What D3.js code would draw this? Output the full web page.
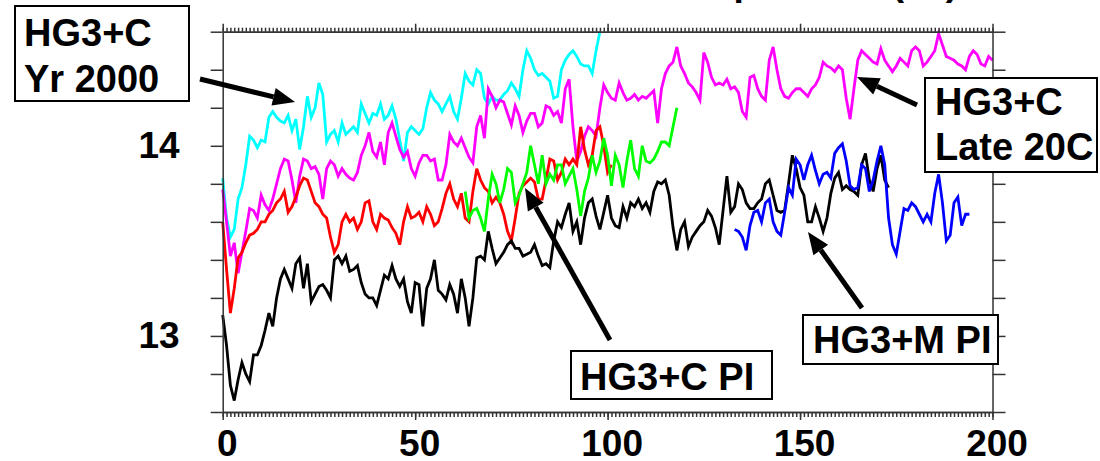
<!DOCTYPE html>
<html>
<head>
<meta charset="utf-8">
<script src="https://cdn.jsdelivr.net/npm/d3@7"></script>
<style>
  body { margin: 0; background: #fff; }
  svg { display: block; font-family: 'Liberation Sans', Arial, sans-serif; font-weight: bold; }
  .axis path, .axis line { stroke: #333; stroke-width: 1.5; }
  .axis text { font-family: 'Liberation Sans', Arial, sans-serif; font-weight: bold; font-size: 37px; fill: #000; }
</style>
</head>
<body>
<svg id="chart" width="1100" height="461"></svg>
<script>
'use strict';

// ---- data: annual global mean temperature (deg C) by model year ----
var cyanStart = 0;
var cyanVals = [
  13.83, 13.62, 13.52, 13.56, 13.72, 13.78, 13.9, 14.05, 14.03, 13.99,
  14.03, 14.02, 14.15, 14.18, 14.15, 14.13, 14.12, 14.16, 14.08, 14.14,
  13.98, 14.1, 14.26, 14.15, 14.2, 14.33, 14.27, 14.02, 14.06, 14.08,
  14.02, 14.12, 14.06, 14.08, 14.1, 14.07, 14.22, 14.17, 14.12, 14.17,
  14.16, 14.22, 14.14, 14.16, 14.21, 14.14, 14.03, 13.92, 14.07, 14.1,
  14.08, 14.06, 14.09, 14.2, 14.28, 14.24, 14.22, 14.18, 14.22, 14.26,
  14.18, 14.14, 14.25, 14.38, 14.34, 14.32, 14.4, 14.38, 14.25, 14.22,
  14.26, 14.24, 14.24, 14.27, 14.29, 14.33, 14.3, 14.26, 14.4, 14.5,
  14.46, 14.4, 14.37, 14.38, 14.36, 14.34, 14.25, 14.26, 14.4, 14.45,
  14.48, 14.5, 14.47, 14.43, 14.42, 14.42, 14.38, 14.5, 14.6
];

var magentaStart = 0;
var magentaVals = [
  13.77, 13.6, 13.42, 13.49, 13.33, 13.44, 13.55, 13.67, 13.66, 13.62,
  13.74, 13.69, 13.66, 13.72, 13.8, 13.88, 13.93, 13.92, 13.82, 13.7,
  13.84, 13.93, 13.92, 13.88, 13.89, 13.85, 13.72, 13.88, 13.92, 13.9,
  13.84, 13.88, 13.85, 13.83, 13.82, 13.86, 13.95, 14.0, 14.07, 13.97,
  13.94, 14.02, 13.9, 14.07, 14.12, 14.05, 13.98, 13.94, 13.97, 13.88,
  13.84, 13.91, 13.95, 13.95, 13.92, 13.93, 13.82, 13.82, 13.9, 14.06,
  14.02, 14.0, 14.04, 13.99, 13.94, 13.91, 14.1, 14.16, 14.04, 14.3,
  14.26, 14.2, 14.24, 14.23, 14.17, 14.11, 14.21, 14.16, 14.07, 14.13,
  14.17, 14.17, 14.1, 14.12, 14.21, 14.2, 14.16, 14.18, 14.12, 14.3,
  14.35, 14.1, 13.92, 13.97, 14.05, 14.1, 14.08, 14.05, 14.2, 14.32,
  14.28, 14.25, 14.24, 14.33, 14.28, 14.24, 14.25, 14.27, 14.24, 14.26,
  14.25, 14.27, 14.29, 14.12, 14.3, 14.38, 14.42, 14.44, 14.52, 14.42,
  14.38, 14.33, 14.31, 14.28, 14.24, 14.49, 14.44, 14.36, 14.32, 14.33,
  14.32, 14.35, 14.3, 14.31, 14.28, 14.18, 14.15, 14.36, 14.37, 14.3,
  14.26, 14.24, 14.45, 14.52, 14.4, 14.3, 14.26, 14.25, 14.28, 14.3,
  14.3, 14.28, 14.26, 14.3, 14.32, 14.36, 14.44, 14.42, 14.41, 14.39,
  14.42, 14.4, 14.25, 14.14, 14.3, 14.45, 14.5, 14.48, 14.46, 14.44,
  14.43, 14.51, 14.45, 14.42, 14.39, 14.42, 14.46, 14.44, 14.42, 14.5,
  14.52, 14.5, 14.42, 14.44, 14.47, 14.5, 14.59, 14.53, 14.47, 14.46,
  14.45, 14.43, 14.42, 14.4, 14.47, 14.5, 14.48, 14.43, 14.42, 14.47, 14.45
];

var redStart = 0;
var redVals = [
  13.6, 13.35, 13.12, 13.25, 13.41, 13.44, 13.49, 13.53, 13.54, 13.56,
  13.6, 13.6, 13.64, 13.66, 13.7, 13.72, 13.76, 13.65, 13.68, 13.73,
  13.79, 13.83, 13.82, 13.76, 13.7, 13.68, 13.64, 13.62, 13.52, 13.44,
  13.48, 13.6, 13.64, 13.6, 13.62, 13.56, 13.6, 13.7, 13.71, 13.6,
  13.56, 13.64, 13.62, 13.61, 13.57, 13.54, 13.48, 13.6, 13.68, 13.62,
  13.63, 13.65, 13.6, 13.68, 13.64, 13.58, 13.6, 13.67, 13.75, 13.8,
  13.72, 13.68, 13.75, 13.62, 13.6, 13.76, 13.88, 13.82, 13.78, 13.76,
  13.7, 13.73, 13.7, 13.64, 13.55, 13.5, 13.62, 13.75, 13.79, 13.81,
  13.83, 13.81, 13.72, 13.72, 13.82, 13.93, 13.92, 13.82, 13.86, 13.93,
  13.9, 13.93, 13.9, 14.1, 13.98, 13.9, 13.95, 14.08, 14.1, 14.0,
  13.86, 13.9
];

var greenStart = 63;
var greenVals = [
  13.76, 13.62, 13.66, 13.67, 13.62, 13.55, 13.72, 13.85, 13.8, 13.7,
  13.77, 13.88, 13.86, 13.7, 13.74, 13.8, 13.86, 14.0, 13.9, 13.8,
  13.95, 13.8, 13.85, 13.82, 13.9, 13.9, 13.8, 13.84, 13.88, 13.77,
  13.63, 13.76, 13.83, 13.95, 13.86, 13.92, 14.04, 13.95, 13.79, 13.95,
  13.9, 13.78, 13.92, 14.03, 13.88, 13.84, 14.0, 13.92, 13.91, 13.93,
  13.97, 14.02, 14.02, 14.0, 14.1, 14.2
];

var blackStart = 0;
var blackVals = [
  13.11, 12.95, 12.74, 12.66, 12.77, 12.86, 12.8, 12.76, 12.9, 12.9,
  12.95, 13.03, 13.12, 13.05, 13.2, 13.3, 13.35, 13.3, 13.25, 13.38,
  13.41, 13.25, 13.38, 13.18, 13.22, 13.26, 13.27, 13.24, 13.2, 13.4,
  13.42, 13.38, 13.42, 13.34, 13.35, 13.37, 13.28, 13.22, 13.2, 13.2,
  13.16, 13.24, 13.32, 13.3, 13.37, 13.3, 13.26, 13.3, 13.18, 13.12,
  13.28, 13.27, 13.05, 13.25, 13.3, 13.4, 13.24, 13.22, 13.19, 13.27,
  13.22, 13.12, 13.3, 13.2, 13.05, 13.2, 13.41, 13.42, 13.4, 13.55,
  13.46, 13.38, 13.41, 13.44, 13.48, 13.5, 13.46, 13.46, 13.42, 13.43,
  13.44, 13.48, 13.42, 13.37, 13.38, 13.36, 13.5, 13.6, 13.57, 13.64,
  13.7, 13.55, 13.6, 13.48, 13.62, 13.7, 13.72, 13.63, 13.56, 13.65,
  13.74, 13.62, 13.58, 13.57, 13.68, 13.62, 13.7, 13.68, 13.72, 13.67,
  13.7, 13.65, 13.76, 13.81, 13.8, 13.82, 13.74, 13.57, 13.45, 13.56,
  13.6, 13.47, 13.52, 13.55, 13.58, 13.6, 13.66, 13.63, 13.57, 13.48,
  13.66, 13.84, 13.65, 13.68, 13.8, 13.77, 13.7, 13.67, 13.67, 13.7,
  13.72, 13.8, 13.82, 13.74, 13.66, 13.65, 13.66, 13.8, 13.95, 13.88,
  13.78, 13.74, 13.6, 13.6, 13.68, 13.62, 13.55, 13.62, 13.75, 13.83,
  13.86, 13.77, 13.79, 13.77, 13.76, 13.74, 13.9, 13.96, 13.82, 13.76,
  13.88, 13.95, 13.82, 13.78
];

var blueStart = 133;
var blueVals = [
  13.56, 13.55, 13.52, 13.45, 13.58, 13.65, 13.66, 13.6, 13.7, 13.72,
  13.6, 13.55, 13.53, 13.65, 13.78, 13.74, 13.93, 13.9, 13.82, 13.9,
  13.95, 13.87, 13.8, 13.85, 13.86, 13.83, 13.96, 13.99, 14.01, 13.92,
  13.79, 13.77, 13.78, 13.9, 13.88, 13.76, 13.82, 13.92, 14.0, 13.9,
  13.62, 13.48, 13.43, 13.55, 13.67, 13.66, 13.7, 13.68, 13.64, 13.6,
  13.64, 13.6, 13.75, 13.85, 13.7, 13.5, 13.53, 13.7, 13.73, 13.58,
  13.64, 13.64
];

var xTickLabels = [0, 50, 100, 150, 200];
var yTickLabels = [13, 14];

// ---- series table built from the arrays above ----
var series = [
  {name: 'HG3+C Yr 2000', color: '#00ffff', start: cyanStart, vals: cyanVals},
  {name: 'HG3+C Late 20C', color: '#ff00ff', start: magentaStart, vals: magentaVals},
  {name: 'HG3+C PI (red)', color: '#ff0000', start: redStart, vals: redVals},
  {name: 'HG3+C PI (green)', color: '#00ff00', start: greenStart, vals: greenVals},
  {name: 'HG3+C PI (black)', color: '#000000', start: blackStart, vals: blackVals},
  {name: 'HG3+M PI', color: '#0000ff', start: blueStart, vals: blueVals}
];

var W = 1100, H = 461;
var margin = {top: 31.7, right: 107.5, bottom: 49, left: 222.7};
var plotBottom = H - margin.bottom, plotTop = margin.top;

var svg = d3.select('#chart');

var x = d3.scaleLinear()
  .domain([0, 200])
  .range([margin.left, W - margin.right]);

var y = d3.scaleLinear()
  .domain([12.6, 14.6])
  .range([plotBottom, plotTop]);

var yTicks = d3.range(0, 11).map(function(i) { return 12.6 + i * 0.2; });
var minorX = d3.range(0, 201);

// title, clipped by the top edge of the picture
svg.append('text')
  .attr('x', 958)
  .attr('y', -5)
  .attr('text-anchor', 'end')
  .style('font-size', '37px')
  .text('Global Mean Surface Air Temperature (°C)');

// ---- series ----
var line = d3.line()
  .x(function(d) { return x(d.year); })
  .y(function(d) { return y(d.t); });

svg.append('g')
  .selectAll('path')
  .data(series)
  .enter().append('path')
  .attr('fill', 'none')
  .attr('stroke', function(d) { return d.color; })
  .attr('stroke-width', 2.8)
  .attr('d', function(s) {
    return line(s.vals.map(function(v, i) { return {year: s.start + i, t: v}; }));
  });

// ---- axes ----
svg.append('g')
  .attr('class', 'axis')
  .attr('transform', 'translate(0,' + plotBottom + ')')
  .call(d3.axisBottom(x).tickValues(minorX).tickSize(5).tickSizeOuter(0).tickFormat(''));

svg.append('g')
  .attr('class', 'axis')
  .attr('transform', 'translate(0,' + plotBottom + ')')
  .call(d3.axisBottom(x).tickValues(xTickLabels).tickSize(8).tickSizeOuter(0).tickPadding(10))
  .selectAll('text')
    .attr('dx', '4');

svg.append('g')
  .attr('class', 'axis')
  .attr('transform', 'translate(0,' + plotTop + ')')
  .call(d3.axisTop(x).tickValues(minorX).tickSize(4).tickSizeOuter(0).tickFormat(''));

svg.append('g')
  .attr('class', 'axis')
  .attr('transform', 'translate(0,' + plotTop + ')')
  .call(d3.axisTop(x).tickValues(xTickLabels).tickSize(8).tickSizeOuter(0).tickFormat(''));

svg.append('g')
  .attr('class', 'axis')
  .attr('transform', 'translate(' + margin.left + ',0)')
  .call(d3.axisLeft(y).tickValues(yTicks).tickSize(12).tickSizeOuter(0).tickPadding(31)
    .tickFormat(function(d) {
      var r = Math.round(d);
      return (Math.abs(d - r) < 1e-6 && yTickLabels.indexOf(r) >= 0) ? r : '';
    }));

svg.append('g')
  .attr('class', 'axis')
  .attr('transform', 'translate(' + (W - margin.right) + ',0)')
  .call(d3.axisRight(y).tickValues(yTicks).tickSize(13).tickSizeOuter(0).tickFormat(''));

// ---- annotations ----
var notes = [
  {lines: ['HG3+C', 'Yr 2000'], box: [15, 6, 174, 95], tx: 24, base: [46, 92], arrow: [200, 79, 295, 102]},
  {lines: ['HG3+C', 'Late 20C'], box: [925, 78, 172, 94], tx: 935, base: [115, 160], arrow: [917, 105, 857, 77]},
  {lines: ['HG3+C PI'], box: [571, 351, 201, 48], tx: 580, base: [390], arrow: [610, 340, 525, 188]},
  {lines: ['HG3+M PI'], box: [803, 315, 195, 49], tx: 813, base: [353], arrow: [862, 308, 808, 232]}
];

var ann = svg.append('g');
notes.forEach(function(n) {
  var a = n.arrow;
  var ang = Math.atan2(a[3] - a[1], a[2] - a[0]);
  var hl = 22, hw = 9;
  var bx = a[2] - hl * Math.cos(ang), by = a[3] - hl * Math.sin(ang);
  ann.append('line')
    .attr('x1', a[0]).attr('y1', a[1])
    .attr('x2', bx).attr('y2', by)
    .attr('stroke', '#000')
    .attr('stroke-width', 5);
  ann.append('polygon')
    .attr('points', [
      [a[2], a[3]],
      [bx - hw * Math.sin(ang), by + hw * Math.cos(ang)],
      [bx + hw * Math.sin(ang), by - hw * Math.cos(ang)]
    ].join(' '))
    .attr('fill', '#000');

  ann.append('rect')
    .attr('x', n.box[0]).attr('y', n.box[1])
    .attr('width', n.box[2]).attr('height', n.box[3])
    .attr('fill', '#fff')
    .attr('stroke', '#000')
    .attr('stroke-width', 2);
  n.lines.forEach(function(t, i) {
    ann.append('text')
      .attr('x', n.tx)
      .attr('y', n.base[i])
      .style('font-size', '38px')
      .text(t);
  });
});
</script>
</body>
</html>
